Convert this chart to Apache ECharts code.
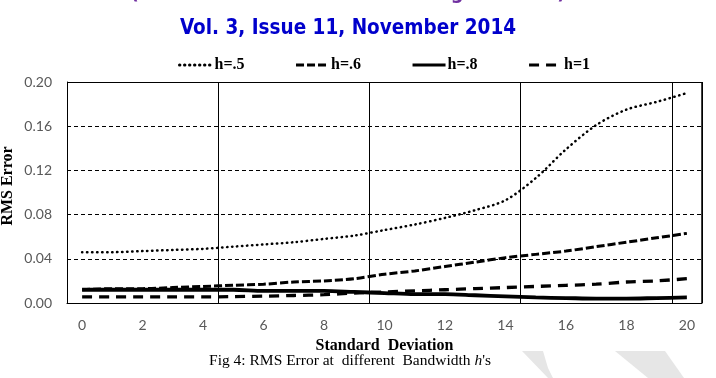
<!DOCTYPE html>
<html>
<head>
<meta charset="utf-8">
<script src="https://cdn.jsdelivr.net/npm/echarts@6/dist/echarts.min.js"></script>
<style>
  html, body { margin: 0; padding: 0; background: #fff; }
  #chart { width: 716px; height: 378px; }
</style>
</head>
<body>
<div id="chart"></div>
<script>
// standard deviation categories 0..20
const sdCategories = ['0','1','2','3','4','5','6','7','8','9','10','11','12','13','14','15','16','17','18','19','20']

// RMS error for each bandwidth
const h05 = [0.046, 0.046, 0.047, 0.048, 0.049, 0.051, 0.053, 0.055, 0.058, 0.061, 0.066, 0.071, 0.077, 0.084, 0.093, 0.113, 0.139, 0.161, 0.175, 0.182, 0.190]
const h06 = [0.012, 0.013, 0.013, 0.014, 0.015, 0.016, 0.017, 0.019, 0.020, 0.022, 0.026, 0.029, 0.033, 0.037, 0.041, 0.044, 0.047, 0.051, 0.055, 0.059, 0.063]
const h08 = [0.012, 0.012, 0.012, 0.012, 0.012, 0.012, 0.011, 0.011, 0.011, 0.010, 0.009, 0.008, 0.008, 0.007, 0.006, 0.005, 0.0045, 0.004, 0.004, 0.0045, 0.005]
const h1 = [0.0055, 0.0055, 0.0055, 0.0055, 0.0055, 0.0058, 0.0062, 0.0068, 0.0075, 0.009, 0.010, 0.011, 0.012, 0.013, 0.014, 0.015, 0.016, 0.017, 0.019, 0.020, 0.022]

const yTicks = ['0.00', '0.04', '0.08', '0.12', '0.16', '0.20']

const serif = 'Liberation Serif'
const axisFont = 'Lato'

const chart = echarts.init(document.getElementById('chart'))

chart.setOption({
  animation: false,
  backgroundColor: '#fff',
  legend: {
    left: 173,
    top: 52,
    itemWidth: 33,
    itemHeight: 14,
    itemGap: 50,
    itemStyle: { opacity: 0 },
    lineStyle: { width: 3 },
    textStyle: { fontFamily: serif, fontWeight: 'bold', fontSize: 16, color: '#000', padding: [0, 0, 0, -3] },
    data: ['h=.5', 'h=.6', 'h=.8', 'h=1']
  },
  grid: { left: 67, right: 14, top: 82, bottom: 75 },
  xAxis: {
    type: 'category',
    data: sdCategories,
    boundaryGap: true,
    name: 'Standard  Deviation',
    nameLocation: 'middle',
    nameGap: 35,
    nameTextStyle: { fontFamily: serif, fontWeight: 'bold', fontSize: 16, color: '#000' },
    axisLine: { lineStyle: { color: '#000', width: 1 } },
    axisTick: { show: false },
    axisLabel: { interval: 1, color: '#595959', fontFamily: axisFont, fontSize: 14, margin: 15 },
    splitLine: { show: true, interval: 4, lineStyle: { color: '#000', width: 1 } }
  },
  yAxis: {
    type: 'value',
    min: 0,
    max: 0.2,
    interval: 0.04,
    axisLine: { show: true, lineStyle: { color: '#000', width: 1 } },
    axisTick: { show: false },
    axisLabel: {
      color: '#595959', fontFamily: axisFont, fontSize: 14, margin: 15,
      formatter: (v) => yTicks[Math.round(v / 0.04)]
    },
    splitLine: { lineStyle: { color: '#000', type: [4, 3], width: 1 } }
  },
  series: [
    {
      name: 'h=.5', type: 'line', data: h05, symbol: 'none', smooth: 0.3,
      lineStyle: { color: '#000', width: 2.5, type: [0.4, 4.6], cap: 'round' }, itemStyle: { color: '#000' }
    },
    {
      name: 'h=.6', type: 'line', data: h06, symbol: 'none', smooth: 0.3,
      lineStyle: { color: '#000', width: 3, type: [8, 3] }, itemStyle: { color: '#000' }
    },
    {
      name: 'h=.8', type: 'line', data: h08, symbol: 'none', smooth: 0.3,
      lineStyle: { color: '#000', width: 3.8 }, itemStyle: { color: '#000' }
    },
    {
      name: 'h=1', type: 'line', data: h1, symbol: 'none', smooth: 0.3,
      lineStyle: { color: '#000', width: 3.3, type: [10, 7] }, itemStyle: { color: '#000' }
    },
    {
      // top edge of the plot box
      type: 'line', data: [], silent: true,
      markLine: {
        silent: true, symbol: 'none', label: { show: false },
        lineStyle: { color: '#000', type: 'solid', width: 1 },
        data: [{ yAxis: 0.2 }]
      }
    }
  ],
  graphic: [
    {
      type: 'rect', shape: { x: 702, y: 82, width: 0, height: 221 },
      style: { stroke: '#000', lineWidth: 1, fill: null }
    },
    {
      type: 'text', x: 348, y: -6,
      style: {
        text: '(An ISO 3297: 2007 Certified Organization)', textAlign: 'center', textVerticalAlign: 'middle',
        fontFamily: 'DejaVu Sans Condensed', fontWeight: 'bold', fontSize: 20, fill: '#7030a0'
      }
    },
    {
      type: 'text', x: 348, y: 29,
      style: {
        text: 'Vol. 3, Issue 11, November 2014', textAlign: 'center', textVerticalAlign: 'middle',
        fontFamily: 'DejaVu Sans Condensed', fontWeight: 'bold', fontSize: 20.5, fill: '#0000cc'
      }
    },
    {
      type: 'text', x: 8, y: 186, rotation: Math.PI / 2,
      style: {
        text: 'RMS Error', textAlign: 'center', textVerticalAlign: 'middle',
        fontFamily: serif, fontWeight: 'bold', fontSize: 16, fill: '#000'
      }
    },
    {
      type: 'text', x: 350, y: 361,
      style: {
        text: "Fig 4: RMS Error at  different  Bandwidth {i|h}'s", textAlign: 'center', textVerticalAlign: 'middle',
        fontFamily: serif, fontSize: 15.5, fill: '#000',
        rich: { i: { fontFamily: serif, fontStyle: 'italic', fontSize: 15.5, fill: '#000' } }
      }
    },
    {
      type: 'polygon', z: -1,
      shape: { points: [[522, 351], [543, 351], [548, 368], [553, 378], [548, 378]] },
      style: { fill: '#e6e6e6' }
    },
    {
      type: 'polygon', z: -1,
      shape: { points: [[615, 351], [665, 351], [684, 378], [648, 378]] },
      style: { fill: '#e6e6e6' }
    }
  ]
})
</script>
</body>
</html>
